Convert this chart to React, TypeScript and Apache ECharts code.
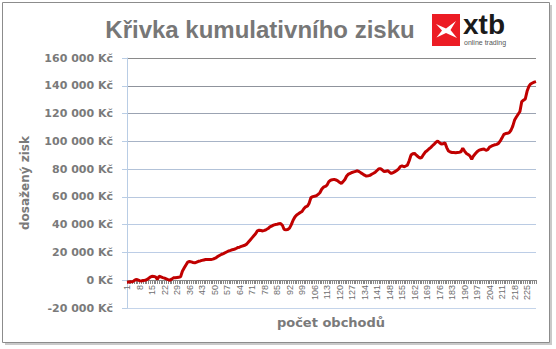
import React, { useEffect, useRef } from "react";
import * as echarts from "echarts";

const TITLE = "Křivka kumulativního zisku";
const Y_NAME = "dosažený zisk";
const X_NAME = "počet obchodů";
const LOGO_TEXT = "xtb";
const LOGO_SUB = "online trading";

const tradeCount = 230;
const categories: string[] = Array.from({ length: tradeCount }, (_, i) => String(i + 1));

const profit: number[] = [
  -1500, -1300, -1000, -1200, -300, 500, 300, -300, -500, -200,
  0, 300, 1200, 2200, 2900, 2700, 2400, 700, 2900, 2400,
  1900, 1500, 900, 400, 0, 800, 1700, 1800, 2000, 2200,
  2400, 6500, 8800, 11000, 13000, 13500, 13200, 12800, 12500, 13000,
  13600, 13900, 14300, 14600, 14900, 15000, 14900, 14900, 15200, 15600,
  16300, 17200, 18000, 18700, 19200, 19800, 20500, 21100, 21500, 22000,
  22300, 22800, 23500, 23800, 24300, 24800, 25200, 26000, 27500, 29000,
  30500, 32000, 33500, 35500, 36000, 35800, 35500, 35900, 36500, 37200,
  38400, 39000, 39600, 40100, 40300, 40600, 40800, 39600, 36500, 36400,
  36500, 37500, 40000, 43200, 45500, 47000, 47800, 48700, 49500, 51500,
  52800, 53300, 55500, 59500, 60200, 60500, 60800, 61800, 63000, 65500,
  67000, 67500, 68500, 71000, 72000, 72400, 72600, 72200, 71600, 70500,
  69700, 71000, 72500, 75000, 76400, 77000, 77600, 78000, 78400, 78800,
  78200, 77300, 76500, 75600, 75000, 75200, 75500, 76300, 77000, 77800,
  79000, 80300, 80200, 79300, 78200, 78500, 78800, 77800, 76900, 77500,
  78200, 79000, 80000, 81800, 82300, 81700, 82200, 82900, 86000, 90100,
  91000, 91300, 90000, 88900, 88000, 88400, 90500, 92300, 93200, 94500,
  95500, 96800, 98000, 99300, 100200, 99000, 98000, 98300, 99000, 95500,
  93000, 92300, 92000, 91900, 91800, 92000, 92200, 92500, 95000, 93000,
  91300, 90500, 89500, 87000, 89500, 91000, 92500, 93500, 94000, 94300,
  94400, 93500, 94000, 95800, 96500, 97100, 97500, 97800, 98500, 100300,
  102500, 105000, 105600, 105800, 106300, 108000, 111000, 115300, 117500, 119500,
  121500, 128500, 129600, 130500, 136000, 139500, 141300, 142000, 142600, 143000,
];

const yMin = -20000;
const yMax = 160000;
const yStep = 20000;

const gridColors = [
  "#c4d4ea", "#c0d0e8", "#bccde6", "#bacbe3", "#b8c8df",
  "#b2c2d8", "#a7b3c6", "#9ba3b2", "#8f939c", "#8a8a8a",
];

function fmtKc(v: number): string {
  const s = Math.abs(v).toString().replace(/\B(?=(\d{3})+(?!\d))/g, " ");
  return (v < 0 ? "-" : "") + s + " Kč";
}

export default function App() {
  const ref = useRef<HTMLDivElement>(null);
  useEffect(() => {
    if (!ref.current) return;
    const chart = echarts.init(ref.current, undefined, { renderer: "svg" });
    const gray = "#7a7a7a";
    chart.setOption({
      animation: false,
      backgroundColor: "#ffffff",
      grid: { left: 127, right: 20, top: 58, bottom: 41, containLabel: false },
      graphic: [
        { type: "rect", z: -20, shape: { x: 5, y: 5, width: 547, height: 340 }, style: { fill: "#c9c9c9" }, silent: true },
        { type: "rect", z: -19, shape: { x: 2.5, y: 2.5, width: 547, height: 340 }, style: { fill: "#ffffff", stroke: "#8c8c8c", lineWidth: 1 }, silent: true },
        {
          type: "text", z: 10, x: 260, y: 29,
          style: { text: TITLE, fill: "#777777", font: "bold 24px 'Liberation Sans', Arial, sans-serif", textAlign: "center", textVerticalAlign: "middle" },
        },
        { type: "rect", z: 10, shape: { x: 432, y: 14, width: 28, height: 32 }, style: { fill: "#ec1c24" } },
        {
          type: "polygon", z: 11,
          shape: { points: [[436, 24], [446, 28.5], [456, 21], [450.5, 30], [457, 38], [446, 33], [436.5, 37.5], [442, 30.5]] },
          style: { fill: "#ffffff" },
        },
        {
          type: "text", z: 10, x: 463, y: 38,
          style: { text: LOGO_TEXT, fill: "#1a1a1a", font: "bold 28px 'Liberation Sans', Arial, sans-serif", textAlign: "left", textVerticalAlign: "bottom" },
        },
        {
          type: "text", z: 10, x: 464, y: 42.5,
          style: { text: LOGO_SUB, fill: "#555555", font: "7px 'Liberation Sans', Arial, sans-serif", textAlign: "left", textVerticalAlign: "middle" },
        },
        {
          type: "text", z: 10, x: 331, y: 322,
          style: { text: X_NAME, fill: gray, font: "bold 13px 'DejaVu Sans', sans-serif", textAlign: "center", textVerticalAlign: "middle" },
        },
      ],
      xAxis: {
        type: "category",
        data: categories,
        boundaryGap: false,
        offset: -28,
        axisLine: { onZero: false, lineStyle: { color: "#868686", width: 1 } },
        axisTick: { show: true, interval: 0, length: 4, lineStyle: { color: "#868686" } },
        axisLabel: {
          interval: 6, rotate: 90, margin: 5, fontSize: 9, color: "#6e6e6e",
          fontFamily: "'Liberation Sans', Arial, sans-serif",
        },
        splitLine: { show: false },
      },
      yAxis: {
        type: "value",
        min: yMin,
        max: yMax,
        interval: yStep,
        name: Y_NAME,
        nameLocation: "middle",
        nameGap: 96,
        nameRotate: 90,
        nameTextStyle: { color: gray, fontWeight: "bold", fontSize: 12, fontFamily: "'DejaVu Sans', sans-serif" },
        axisLine: { show: true, lineStyle: { color: "#b9cde5" } },
        axisTick: { show: true, length: 5, lineStyle: { color: "#b9cde5" } },
        axisLabel: {
          formatter: fmtKc, margin: 14, color: gray, fontWeight: "bold", fontSize: 11,
          fontFamily: "'DejaVu Sans', sans-serif",
        },
        splitLine: { show: true, lineStyle: { color: gridColors, width: 1 } },
      },
      series: [
        {
          type: "line",
          data: profit,
          showSymbol: false,
          symbol: "none",
          lineStyle: { color: "#c00000", width: 3 },
          z: 5,
        },
      ],
    });
    return () => chart.dispose();
  }, []);
  return (
    <div
      ref={ref}
      style={{ position: "absolute", left: 0, top: 0, width: 556, height: 349 }}
    />
  );
}
